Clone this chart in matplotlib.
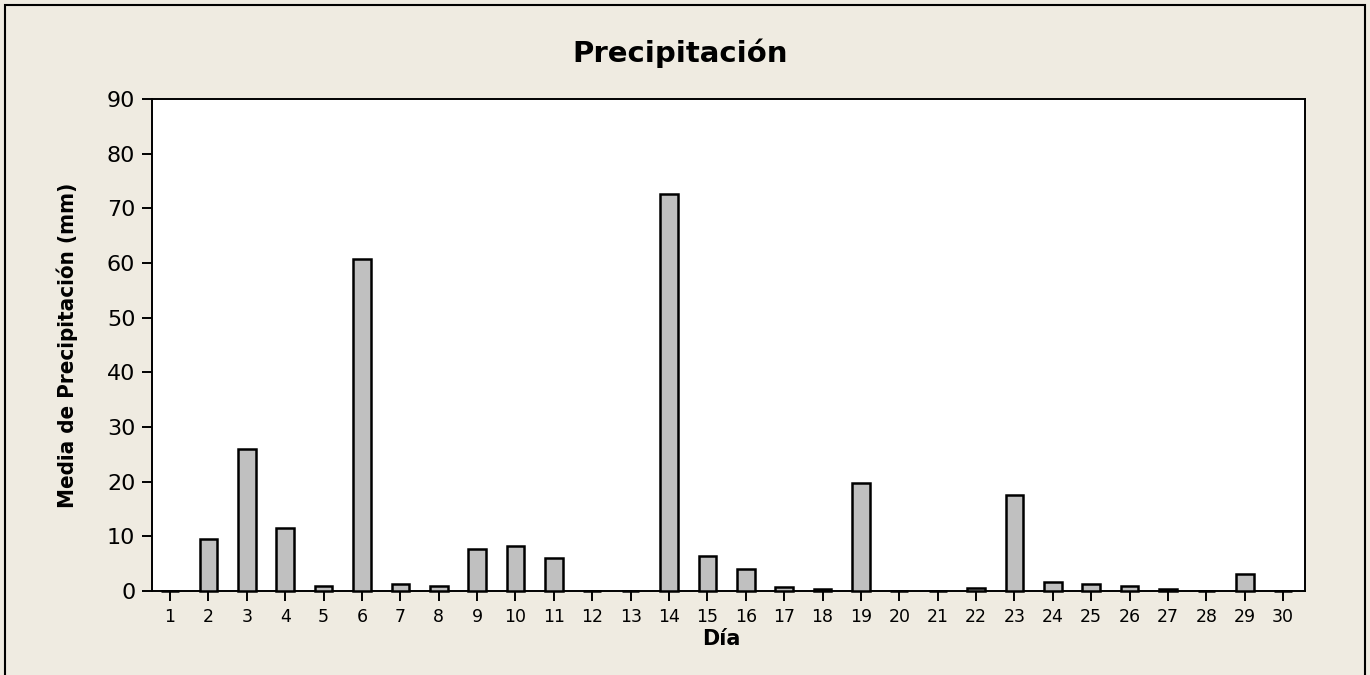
import matplotlib
matplotlib.use("Agg")
import matplotlib.pyplot as plt
from matplotlib.patches import Rectangle

days = list(range(1, 31))
precip = [0.0, 9.6, 25.9, 11.5, 1.0, 60.8, 1.3, 1.0, 7.7, 8.3,
          6.1, 0.0, 0.0, 72.7, 6.4, 4.1, 0.7, 0.3, 19.8, 0.0,
          0.0, 0.6, 17.5, 1.6, 1.3, 1.0, 0.3, 0.0, 3.2, 0.0]
yticks = [0, 10, 20, 30, 40, 50, 60, 70, 80, 90]

title = "Precipitación"
xlabel = "Día"
ylabel = "Media de Precipitación (mm)"

W, H = 1370, 675
bg = "#EFEBE1"
fig = plt.figure(figsize=(W / 100, H / 100), dpi=100, facecolor=bg)
fig.patches.append(Rectangle((5 / W, -0.1), 1360 / W, 1.1 - 5 / H,
                             transform=fig.transFigure, fill=False,
                             edgecolor="black", linewidth=1.5))

ax = fig.add_axes([152 / W, 1 - 591 / H, (1305 - 152) / W, (591 - 99) / H])
ax.set_facecolor("white")
bars = ax.bar(days, precip, width=0.46, color="#C0C0C0", edgecolor="black",
              linewidth=1.8, zorder=3)
for b in bars:
    b.set_clip_on(False)

ax.set_xlim(0.53, 30.57)
ax.set_ylim(0, 90)
ax.set_yticks(yticks)
ax.set_xticks(days)
ax.set_xticklabels([str(d) for d in days], fontsize=12.5)
ax.tick_params(axis="y", labelsize=16, length=7, width=1.4, direction="out", pad=5)
ax.tick_params(axis="x", length=7, width=1.4, direction="out", pad=5)
for s in ax.spines.values():
    s.set_linewidth(1.4)

fig.text(721 / W, 1 - 645 / H, xlabel, fontsize=15, fontweight="bold",
         ha="center", va="baseline")
fig.text(67 / W, 1 - 345 / H, ylabel, fontsize=16, fontweight="bold",
         fontstretch="condensed", rotation=90, ha="center", va="center")
fig.text(680 / W, 1 - 62 / H, title, fontsize=21, fontweight="bold",
         ha="center", va="baseline")

fig.savefig("out.png", dpi=100, facecolor=bg)
